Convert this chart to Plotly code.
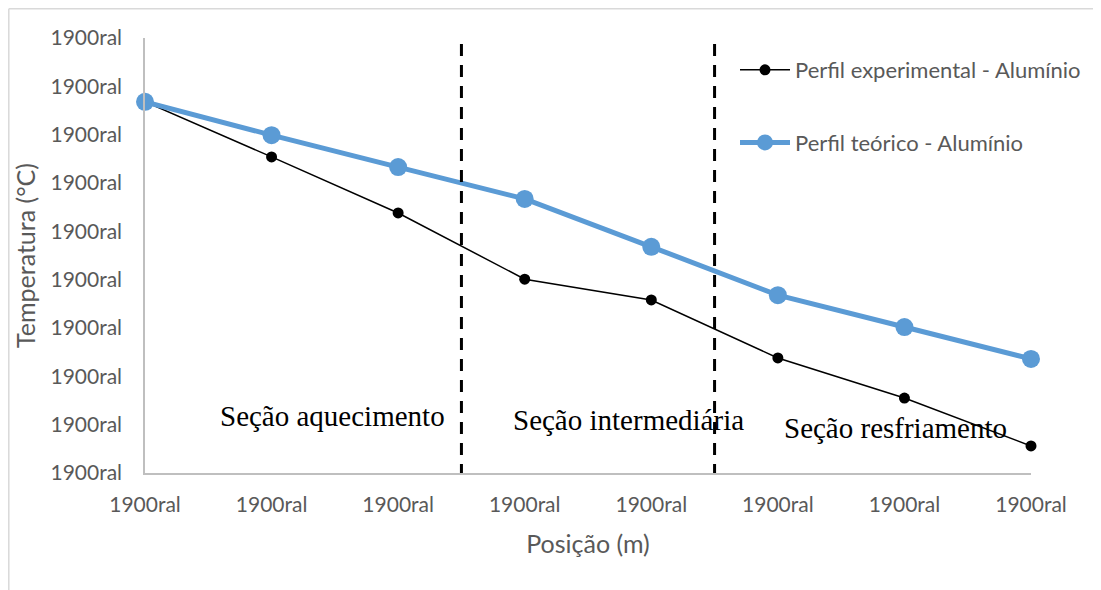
import plotly.graph_objects as go

# Data
positions = [1, 2, 3, 4, 5, 6, 7, 8]
x_tick_labels = ["1900ral"] * 8
y_tick_vals = [0, 1, 2, 3, 4, 5, 6, 7, 8, 9]
y_tick_labels = ["1900ral"] * 10
experimental = [7.68, 6.54, 5.38, 4.01, 3.58, 2.38, 1.55, 0.56]
teorico = [7.68, 6.99, 6.33, 5.67, 4.68, 3.68, 3.02, 2.36]
section_bounds = [3.5, 5.5]
section_names = ["Seção aquecimento", "Seção intermediária", "Seção resfriamento"]
section_x = [2.485, 4.816, 6.926]
section_y = [1.18, 1.10, 0.93]

GRAY = "#595959"
SANS = "Lato, 'Open Sans', sans-serif"
SERIF = "'Liberation Serif', 'Times New Roman', serif"

fig = go.Figure()
fig.add_trace(go.Scatter(
    x=positions, y=experimental, mode="lines+markers",
    name="Perfil experimental - Alumínio",
    line=dict(color="black", width=1.5),
    marker=dict(color="black", size=11),
    cliponaxis=False, legendgroup="a",
))
fig.add_trace(go.Scatter(
    x=positions, y=teorico, mode="lines+markers",
    name="Perfil teórico - Alumínio",
    line=dict(color="#5b9bd5", width=5),
    marker=dict(color="#5b9bd5", size=18),
    cliponaxis=False, legendgroup="b",
))

for xb in section_bounds:
    fig.add_shape(type="line", xref="x", yref="y", x0=xb, x1=xb, y0=-0.06, y1=9.02,
                  line=dict(color="black", width=3, dash="12px,9px"))

for name, xx, yy in zip(section_names, section_x, section_y):
    fig.add_annotation(x=xx, y=yy, xref="x", yref="y", text=name, showarrow=False,
                       font=dict(family=SERIF, size=29, color="black"))

# outer frame (left & top)
FX = (8.8 - 145) / 886
FY = (473 - 8.8) / 435
fig.add_shape(type="line", xref="paper", yref="paper",
              x0=FX, x1=(1101 - 145) / 886, y0=FY, y1=FY,
              line=dict(color="#d9d9d9", width=1.5))
fig.add_shape(type="line", xref="paper", yref="paper",
              x0=FX, x1=FX, y0=FY, y1=(473 - 600) / 435,
              line=dict(color="#d9d9d9", width=1.5))

fig.update_layout(
    width=1093, height=582,
    margin=dict(l=137, r=70, t=30, b=117),
    paper_bgcolor="white", plot_bgcolor="white",
    showlegend=True,
    legend=dict(x=(735 - 145) / 886, y=(473 - 49) / 435, xanchor="left", yanchor="top",
                bgcolor="rgba(0,0,0,0)", font=dict(family=SANS, size=22, color=GRAY),
                traceorder="grouped", tracegroupgap=41, itemwidth=50),
    xaxis=dict(range=[1, 8], tickvals=positions, ticktext=x_tick_labels,
               showgrid=False, zeroline=False, showline=True, linecolor="#bfbfbf", linewidth=1.5,
               ticks="", ticklabelstandoff=12,
               tickfont=dict(family=SANS, size=21, color=GRAY),
               title=dict(text="Posição (m)", font=dict(family=SANS, size=25, color=GRAY), standoff=21)),
    yaxis=dict(range=[0, 9], tickvals=y_tick_vals, ticktext=y_tick_labels,
               showgrid=False, zeroline=False, showline=True, linecolor="#bfbfbf", linewidth=1.5,
               ticks="", ticklabelstandoff=17,
               tickfont=dict(family=SANS, size=21, color=GRAY),
               title=dict(text="Temperatura (°C)", font=dict(family=SANS, size=25, color=GRAY), standoff=8)),
)

fig.write_html("out.html")
